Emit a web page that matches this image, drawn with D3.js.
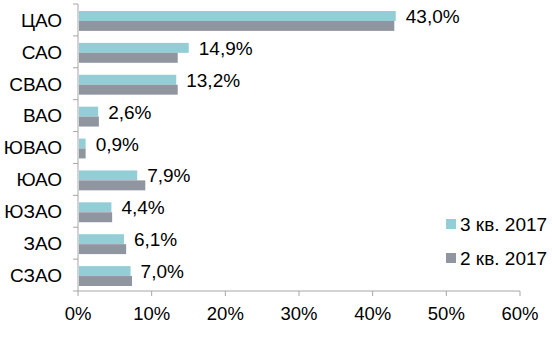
<!DOCTYPE html>
<html>
<head>
<meta charset="utf-8">
<script src="https://cdn.jsdelivr.net/npm/d3@7"></script>
<style>
  body { margin: 0; background: #fff; }
  text { font-family: "Liberation Sans", Arial, sans-serif; fill: #000; }
</style>
</head>
<body>
<div id="chart"></div>
<script>
const categories = ['ЦАО', 'САО', 'СВАО', 'ВАО', 'ЮВАО', 'ЮАО', 'ЮЗАО', 'ЗАО', 'СЗАО'];
const q3 = [43.0, 14.9, 13.2, 2.6, 0.9, 7.9, 4.4, 6.1, 7.0];
const q2 = [42.8, 13.4, 13.4, 2.7, 0.9, 9.0, 4.5, 6.4, 7.2];
const seriesNames = ['3 кв. 2017', '2 кв. 2017'];
const xTicks = [0, 10, 20, 30, 40, 50, 60];

const width = 552, height = 363;
const margin = { top: 4, right: 32, bottom: 72, left: 78 };
const colors = ['#93CDD6', '#8F96A0'];
const fontSize = 19;

const svg = d3.select('#chart').append('svg')
  .attr('width', width)
  .attr('height', height);

const x = d3.scaleLinear().domain([0, 60]).range([margin.left, 520]);
const y = d3.scaleBand().domain(categories).range([margin.top, 291]).paddingInner(0).paddingOuter(0);
const inner = d3.scaleBand().domain([0, 1]).range([7, y.bandwidth() - 5]);

const fmt = (v) => v.toFixed(1).replace('.', ',') + '%';

// bars
const rows = categories.map((c, i) => ({ c, vals: [q3[i], q2[i]] }));
const g = svg.append('g');
rows.forEach((r) => {
  r.vals.forEach((v, k) => {
    g.append('rect')
      .attr('x', x(0) + 1)
      .attr('y', y(r.c) + inner(k))
      .attr('width', x(v) - x(0))
      .attr('height', inner.bandwidth())
      .attr('fill', colors[k]);
  });
  g.append('text')
    .attr('x', x(r.vals[0]) + 11)
    .attr('y', y(r.c) + y.bandwidth() / 2 + 3)
    .attr('font-size', fontSize)
    .text(fmt(r.vals[0]));
});

// y axis
const yAxis = svg.append('g')
  .attr('transform', `translate(${x(0)},0)`);
yAxis.append('line')
  .attr('x1', 0).attr('x2', 0)
  .attr('y1', margin.top).attr('y2', 291)
  .attr('stroke', '#A6A6A6');
const yTickPos = categories.map((c) => y(c)).concat([y.range()[1]]);
yAxis.selectAll('.yt').data(yTickPos).join('line')
  .attr('x1', -5).attr('x2', 0)
  .attr('y1', (d) => d).attr('y2', (d) => d)
  .attr('stroke', '#A6A6A6');
yAxis.selectAll('.yl').data(categories).join('text')
  .attr('x', -16)
  .attr('y', (d) => y(d) + y.bandwidth() / 2)
  .attr('dy', '0.36em')
  .attr('text-anchor', 'end')
  .attr('font-size', fontSize)
  .text((d) => d);

// x axis
const xAxis = svg.append('g')
  .attr('transform', 'translate(0,291)');
xAxis.append('line')
  .attr('x1', x(0)).attr('x2', x(60))
  .attr('stroke', '#A6A6A6');
xAxis.selectAll('.xt').data(xTicks).join('line')
  .attr('x1', (d) => x(d)).attr('x2', (d) => x(d))
  .attr('y1', 0).attr('y2', 5)
  .attr('stroke', '#A6A6A6');
xAxis.selectAll('.xl').data(xTicks).join('text')
  .attr('x', (d) => x(d))
  .attr('y', 22)
  .attr('dy', '0.36em')
  .attr('text-anchor', 'middle')
  .attr('font-size', 18.5)
  .text((d) => d + '%');

// legend
const legend = svg.append('g').attr('transform', 'translate(446,219)');
seriesNames.forEach((name, k) => {
  legend.append('rect')
    .attr('x', 0).attr('y', k * 34)
    .attr('width', 10).attr('height', 10)
    .attr('fill', colors[k]);
  legend.append('text')
    .attr('x', 14).attr('y', k * 34 + 5)
    .attr('dy', '0.36em')
    .attr('font-size', fontSize)
    .text(name);
});
</script>
</body>
</html>
